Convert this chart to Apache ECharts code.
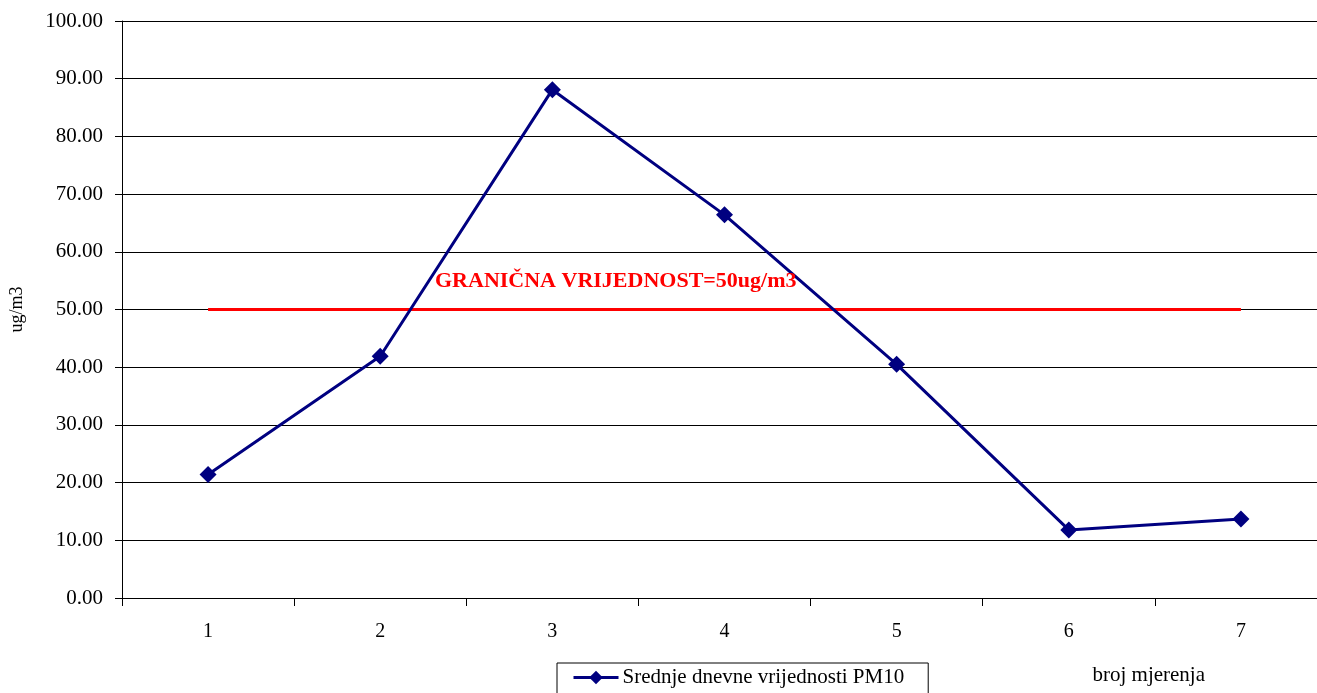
<!DOCTYPE html>
<html>
<head>
<meta charset="utf-8">
<script src="https://cdn.jsdelivr.net/npm/echarts@6/dist/echarts.min.js"></script>
<style>
  html, body { margin: 0; padding: 0; background: #fff; }
  #chart { width: 1317px; height: 693px; }
</style>
</head>
<body>
<div id="chart"></div>
<script>
// Measurement numbers (x axis) and daily mean PM10 concentrations (ug/m3)
const categories = ['1', '2', '3', '4', '5', '6', '7'];
const pm10Values = [21.4, 41.9, 88.1, 66.4, 40.5, 11.8, 13.7];
const limitValue = 50;
const limitValues = categories.map(() => limitValue);
const seriesName = 'Srednje dnevne vrijednosti PM10';
const limitText = 'GRANIČNA VRIJEDNOST=' + limitValue + 'ug/m3';

const serif = '"Liberation Serif", "DejaVu Serif", serif';

const chart = echarts.init(document.getElementById('chart'));
chart.setOption({
  animation: false,
  backgroundColor: '#ffffff',
  grid: {
    left: 122, top: 21, right: -10, bottom: 95,
    containLabel: false,
    outerBoundsMode: 'none'
  },
  xAxis: {
    type: 'category',
    data: categories,
    boundaryGap: true,
    name: 'broj mjerenja',
    nameLocation: 'end',
    nameGap: -122,
    nameTextStyle: {
      fontFamily: serif, fontSize: 21, color: '#000',
      align: 'right', verticalAlign: 'top', padding: [67, 0, 0, 0]
    },
    axisLine: { lineStyle: { color: '#000', width: 1 } },
    axisTick: { show: true, alignWithLabel: false, length: 8, lineStyle: { color: '#000' } },
    axisLabel: { fontFamily: serif, fontSize: 20, color: '#000', margin: 24 },
    splitLine: { show: false }
  },
  yAxis: {
    type: 'value',
    min: 0,
    max: 100,
    interval: 10,
    name: 'ug/m3',
    nameLocation: 'middle',
    nameGap: 96,
    nameRotate: 90,
    nameTextStyle: { fontFamily: serif, fontSize: 18, color: '#000' },
    axisLine: { show: true, lineStyle: { color: '#000', width: 1 } },
    axisTick: { show: true, length: 7, lineStyle: { color: '#000' } },
    axisLabel: {
      fontFamily: serif, fontSize: 21, color: '#000', margin: 19,
      formatter: v => v.toFixed(2)
    },
    splitLine: { show: true, lineStyle: { color: '#000', width: 1 } }
  },
  legend: {
    data: [seriesName],
    left: 557,
    top: 663,
    orient: 'horizontal',
    padding: [4, 24, 8, 15],
    borderColor: '#000',
    borderWidth: 1,
    itemWidth: 45,
    itemHeight: 17,
    itemGap: 4,
    textStyle: { fontFamily: serif, fontSize: 21, color: '#000', padding: [0, 0, 0, -1] },
    lineStyle: { width: 3 }
  },
  series: [
    {
      name: 'limit',
      type: 'line',
      data: limitValues,
      showSymbol: false,
      symbol: 'none',
      lineStyle: { color: '#ff0000', width: 3 },
      itemStyle: { color: '#ff0000' },
      z: 2,
      silent: true
    },
    {
      name: seriesName,
      type: 'line',
      data: pm10Values,
      symbol: 'diamond',
      symbolSize: 17,
      lineStyle: { color: '#000080', width: 3 },
      itemStyle: { color: '#000080' },
      z: 3
    }
  ],
  graphic: [
    {
      type: 'text',
      left: 435,
      top: 270,
      z: 10,
      style: {
        text: limitText,
        fontFamily: serif,
        fontSize: 22,
        fontWeight: 'bold',
        fill: '#ff0000'
      }
    }
  ]
});
</script>
</body>
</html>
